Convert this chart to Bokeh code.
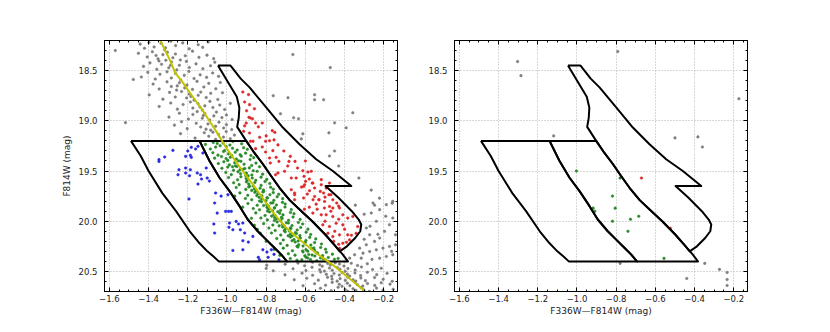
from bokeh.plotting import figure
from bokeh.layouts import row
from bokeh.models import Range1d, LinearAxis, SingleIntervalTicker, CustomJSTickFormatter
from bokeh.embed import file_html
from bokeh.resources import INLINE

# ---------------- data ----------------
x_label = "F336W\u2014F814W (mag)"
y_label = "F814W (mag)"
x_lim = (-1.625, -0.13)
y_lim = (20.7, 18.2)

# fiducial line
fid_x = [-1.345, -1.29, -1.265, -1.225, -1.175, -1.13, -1.09, -1.05, -1.00, -0.95, -0.90, -0.85,
         -0.80, -0.75, -0.70, -0.65, -0.60, -0.55, -0.50, -0.45, -0.40, -0.35, -0.30, -0.28]
fid_y = [18.18, 18.40, 18.52, 18.62, 18.76, 18.88, 19.00, 19.12, 19.28, 19.42, 19.55, 19.68,
         19.82, 19.95, 20.06, 20.15, 20.23, 20.31, 20.38, 20.45, 20.53, 20.61, 20.69, 20.73]

# selection boxes
box_blue_x = [-1.49, -1.14, -1.089, -1.038, -0.987, -0.936, -0.894, -0.843, -0.80, -0.757, -0.723, -0.694,
              -1.042, -1.07, -1.10, -1.14, -1.19, -1.26, -1.33, -1.40, -1.44, -1.49]
box_blue_y = [19.2, 19.2, 19.40, 19.567, 19.70, 19.85, 19.983, 20.10, 20.183, 20.267, 20.333, 20.40,
              20.40, 20.35, 20.30, 20.22, 20.10, 19.90, 19.72, 19.50, 19.35, 19.2]
box_green_x = [-1.14, -0.902, -0.86, -0.817, -0.775, -0.732, -0.68, -0.62, -0.565, -0.50, -0.45, -0.41, -0.383,
               -0.694, -0.723, -0.757, -0.80, -0.843, -0.894, -0.936, -0.987, -1.038, -1.089, -1.14]
box_green_y = [19.2, 19.2, 19.32, 19.43, 19.55, 19.667, 19.79, 19.90, 20.0, 20.13, 20.24, 20.33, 20.40,
               20.40, 20.333, 20.267, 20.183, 20.10, 19.983, 19.85, 19.70, 19.567, 19.40, 19.2]
box_red_x = [-1.046, -0.982, -0.93, -0.885, -0.80, -0.715, -0.63, -0.545, -0.46, -0.366, -0.497, -0.431,
             -0.363, -0.328, -0.315, -0.32, -0.346, -0.388, -0.425, -0.45, -0.50, -0.565, -0.62, -0.68,
             -0.732, -0.775, -0.817, -0.86, -0.902, -0.948, -0.94, -0.937, -0.95, -0.987, -1.046]
box_red_y = [18.45, 18.45, 18.58, 18.667, 18.867, 19.067, 19.233, 19.383, 19.50, 19.65, 19.65, 19.767,
             19.90, 19.983, 20.033, 20.10, 20.167, 20.25, 20.30, 20.24, 20.13, 20.0, 19.90, 19.79,
             19.667, 19.55, 19.43, 19.32, 19.2, 19.06, 18.97, 18.87, 18.76, 18.64, 18.45]

# left panel: gray stars (upper main sequence)
gray_upper_x = [-1.443, -1.398, -1.372, -1.336, -1.314, -1.287, -1.262, -1.226, -1.193, -1.147, -1.124, -1.096, -1.318, -1.421,
                -1.452, -1.407, -1.381, -1.352, -1.327, -1.304, -1.276, -1.263, -1.238, -1.213, -1.176, -1.143, -1.102, -1.068, -1.362, -1.312,
                -1.426, -1.393, -1.358, -1.334, -1.297, -1.283, -1.256, -1.243, -1.207, -1.192, -1.158, -1.123, -1.084, -1.062, -1.347, -1.288,
                -1.437, -1.404, -1.366, -1.342, -1.306, -1.284, -1.263, -1.236, -1.218, -1.194, -1.168, -1.137, -1.104, -1.073, -1.043, -1.478,
                -1.377, -1.346, -1.306, -1.284, -1.257, -1.243, -1.216, -1.204, -1.176, -1.153, -1.118, -1.093, -1.057, -1.034, -1.254,
                -1.397, -1.327, -1.293, -1.264, -1.232, -1.206, -1.193, -1.168, -1.147, -1.134, -1.106, -1.083, -1.047, -1.023, -1.184,
                -1.346, -1.287, -1.253, -1.224, -1.187, -1.174, -1.148, -1.126, -1.113, -1.087, -1.072, -1.037, -1.012, -0.983, -1.138,
                -1.296, -1.243, -1.197, -1.174, -1.152, -1.126, -1.113, -1.088, -1.067, -1.054, -1.026, -1.003, -0.974, -1.518, -1.121,
                -1.268, -1.203, -1.157, -1.134, -1.097, -1.083, -1.058, -1.041, -1.017, -1.003, -0.976, -1.232, -1.107,
                -1.237, -1.163, -1.116, -1.093, -1.058, -1.043, -1.018, -1.004, -0.983, -0.962, -1.072]
gray_upper_y = [18.236, 18.219, 18.264, 18.228, 18.273, 18.207, 18.251, 18.224, 18.283, 18.242, 18.268, 18.215, 18.292, 18.277,
                18.327, 18.364, 18.312, 18.383, 18.341, 18.318, 18.372, 18.334, 18.394, 18.352, 18.306, 18.368, 18.346, 18.381, 18.349, 18.396,
                18.458, 18.423, 18.486, 18.437, 18.472, 18.414, 18.493, 18.446, 18.408, 18.469, 18.433, 18.481, 18.452, 18.416, 18.404, 18.447,
                18.563, 18.517, 18.584, 18.536, 18.512, 18.573, 18.528, 18.593, 18.547, 18.508, 18.578, 18.542, 18.567, 18.523, 18.557, 18.588,
                18.634, 18.683, 18.612, 18.658, 18.694, 18.621, 18.672, 18.643, 18.687, 18.607, 18.663, 18.627, 18.681, 18.618, 18.652,
                18.742, 18.784, 18.717, 18.763, 18.708, 18.772, 18.733, 18.794, 18.746, 18.714, 18.768, 18.726, 18.787, 18.721, 18.757,
                18.857, 18.823, 18.884, 18.838, 18.812, 18.873, 18.829, 18.893, 18.851, 18.806, 18.868, 18.843, 18.887, 18.826, 18.862,
                18.963, 18.924, 18.982, 18.937, 18.908, 18.974, 18.928, 18.993, 18.951, 18.913, 18.968, 18.942, 18.987, 19.018, 18.948,
                19.043, 19.078, 19.024, 19.062, 19.031, 19.093, 19.054, 19.013, 19.071, 19.038, 19.087, 19.009, 19.083,
                19.128, 19.172, 19.119, 19.153, 19.184, 19.136, 19.162, 19.107, 19.178, 19.142, 19.113]

# left panel: gray field stars
gray_field_x = [-1.57, -0.664, -0.473, -0.764, -0.689, -0.553, -0.553, -0.507, -0.727, -0.66, -0.635, -0.451,
                -0.358, -0.392, -0.48, -0.613, -0.621, -0.451, -0.477, -0.43, -0.327, -0.222, -0.247, -0.157,
                -0.345, -0.264, -0.80]
gray_field_y = [18.30, 18.34, 18.47, 18.75, 18.77, 18.74, 18.79, 18.79, 18.93, 18.97, 18.98, 19.02,
                18.92, 19.07, 19.12, 19.13, 19.18, 19.30, 19.35, 19.45, 19.57, 19.77, 19.84, 19.82,
                19.84, 19.69, 20.47]

# left panel: gray stars (lower main sequence and right side)
gray_lower_x = [-0.703, -0.638, -0.604, -0.563, -0.527, -0.514, -0.486, -0.472, -0.448, -0.426, -0.403, -0.366, -0.334, -0.284, -0.797,
                -0.663, -0.597, -0.566, -0.527, -0.503, -0.477, -0.463, -0.437, -0.424, -0.397, -0.383, -0.346, -0.314, -0.257, -0.213, -0.764,
                -0.617, -0.563, -0.522, -0.493, -0.466, -0.454, -0.427, -0.413, -0.386, -0.374, -0.347, -0.318, -0.284, -0.236, -0.183, -0.704,
                -0.593, -0.534, -0.487, -0.464, -0.438, -0.423, -0.396, -0.384, -0.357, -0.343, -0.317, -0.294, -0.247, -0.203, -0.157, -0.657,
                -0.553, -0.497, -0.463, -0.427, -0.413, -0.386, -0.373, -0.346, -0.334, -0.307, -0.283, -0.246, -0.213, -0.168, -0.612,
                -0.523, -0.468, -0.433, -0.397, -0.384, -0.357, -0.343, -0.316, -0.303, -0.274, -0.237, -0.204, -0.152, -0.583,
                -0.289, -0.272, -0.247, -0.221, -0.196, -0.171, -0.154, -0.14, -0.238, -0.264, -0.221, -0.187,
                -0.255, -0.154, -0.289, -0.323, -0.306, -0.272, -0.238, -0.204, -0.171, -0.14, -0.349, -0.315,
                -0.374, -0.187, -0.154, -0.221, -0.30, -0.27, -0.30, -0.19, -0.23, -0.26, -0.16]
gray_lower_y = [20.428, 20.417, 20.443, 20.409, 20.434, 20.448, 20.421, 20.437, 20.414, 20.426, 20.446, 20.419, 20.441, 20.424, 20.438,
                20.474, 20.492, 20.458, 20.483, 20.497, 20.466, 20.488, 20.461, 20.478, 20.499, 20.471, 20.486, 20.456, 20.481, 20.468, 20.494,
                20.517, 20.538, 20.506, 20.529, 20.548, 20.521, 20.536, 20.512, 20.527, 20.546, 20.515, 20.541, 20.508, 20.532, 20.519, 20.534,
                20.568, 20.587, 20.559, 20.576, 20.597, 20.572, 20.589, 20.557, 20.583, 20.596, 20.566, 20.592, 20.561, 20.578, 20.598, 20.583,
                20.623, 20.637, 20.609, 20.628, 20.648, 20.617, 20.642, 20.606, 20.633, 20.646, 20.621, 20.639, 20.613, 20.627, 20.643,
                20.668, 20.692, 20.658, 20.681, 20.697, 20.673, 20.688, 20.662, 20.684, 20.699, 20.666, 20.687, 20.677, 20.695,
                20.068, 20.135, 20.201, 20.168, 20.101, 20.035, 19.968, 20.135, 20.001, 19.918, 19.885, 19.835,
                19.819, 19.802, 20.235, 20.268, 20.318, 20.301, 20.285, 20.268, 20.251, 20.235, 20.334, 20.368,
                20.368, 20.351, 20.334, 20.368, 19.93, 20.05, 20.18, 19.95, 20.13, 20.38, 20.30]

# left panel: green stars (middle box)
green_x = [-1.11, -1.07, -1.035, -1.02, -0.985, -0.97, -0.925, -1.05,
           -1.085, -1.058, -1.012, -1.004, -0.972, -0.948, -0.915, -0.896,
           -1.072, -1.046, -1.018, -0.993, -0.976, -0.958, -0.933, -0.905, -0.878,
           -1.063, -1.028, -0.996, -0.983, -0.952, -0.941, -0.927, -0.882, -0.864, -1.005,
           -1.044, -1.016, -0.988, -0.961, -0.957, -0.929, -0.913, -0.874, -0.852, -0.972,
           -1.026, -0.996, -0.967, -0.949, -0.934, -0.909, -0.886, -0.866, -0.834, -0.917,
           -1.006, -0.978, -0.944, -0.931, -0.904, -0.901, -0.873, -0.846, -0.818, -0.892,
           -0.992, -0.946, -0.929, -0.902, -0.897, -0.871, -0.853, -0.826, -0.797,
           -0.966, -0.938, -0.901, -0.889, -0.866, -0.858, -0.826, -0.806, -0.782, -0.884,
           -0.953, -0.904, -0.889, -0.861, -0.853, -0.831, -0.814, -0.777, -0.764, -0.874,
           -0.934, -0.894, -0.858, -0.843, -0.822, -0.813, -0.781, -0.764, -0.736, -0.848, -0.817,
           -0.906, -0.874, -0.836, -0.823, -0.801, -0.793, -0.761, -0.744, -0.716, -0.834, -0.796,
           -0.893, -0.846, -0.824, -0.797, -0.788, -0.766, -0.748, -0.717, -0.703, -0.813, -0.776,
           -0.866, -0.834, -0.796, -0.788, -0.767, -0.758, -0.727, -0.704, -0.672, -0.793, -0.757,
           -0.853, -0.806, -0.783, -0.761, -0.754, -0.731, -0.714, -0.676, -0.658, -0.772, -0.741,
           -0.827, -0.794, -0.757, -0.748, -0.726, -0.719, -0.686, -0.663, -0.627, -0.758, -0.722,
           -0.813, -0.766, -0.744, -0.717, -0.708, -0.687, -0.668, -0.636, -0.614, -0.734, -0.697,
           -0.786, -0.754, -0.716, -0.703, -0.682, -0.674, -0.642, -0.624, -0.587, -0.708, -0.676,
           -0.773, -0.726, -0.703, -0.677, -0.668, -0.646, -0.628, -0.596, -0.573, -0.688, -0.651,
           -0.746, -0.713, -0.677, -0.658, -0.637, -0.628, -0.597, -0.578, -0.547, -0.668, -0.626,
           -0.727, -0.693, -0.652, -0.634, -0.612, -0.604, -0.572, -0.553, -0.518, -0.643, -0.601,
           -0.713, -0.666, -0.638, -0.597, -0.588, -0.567, -0.553, -0.522, -0.497, -0.614, -0.557,
           -0.687, -0.653, -0.612, -0.583, -0.552, -0.538, -0.512, -0.493, -0.462, -0.603, -0.542, -0.566,
           -0.677, -0.643, -0.597, -0.574, -0.542, -0.523, -0.497, -0.483, -0.452, -0.433, -0.618, -0.588, -0.508,
           -0.96, -0.92, -0.875, -0.86, -0.83, -0.80, -0.76, -0.73, -0.845]
green_y = [19.235, 19.215, 19.248, 19.222, 19.241, 19.206, 19.229, 19.226,
           19.281, 19.262, 19.296, 19.256, 19.273, 19.291, 19.268, 19.284,
           19.318, 19.342, 19.305, 19.329, 19.347, 19.313, 19.338, 19.322, 19.345,
           19.372, 19.356, 19.394, 19.363, 19.381, 19.399, 19.352, 19.385, 19.367, 19.376,
           19.426, 19.408, 19.439, 19.417, 19.449, 19.403, 19.432, 19.445, 19.421, 19.457,
           19.472, 19.461, 19.493, 19.455, 19.488, 19.476, 19.469, 19.497, 19.458, 19.482,
           19.514, 19.536, 19.507, 19.527, 19.546, 19.521, 19.539, 19.503, 19.531, 19.548,
           19.565, 19.588, 19.557, 19.574, 19.597, 19.569, 19.592, 19.561, 19.583,
           19.617, 19.636, 19.608, 19.629, 19.648, 19.614, 19.643, 19.605, 19.625, 19.652,
           19.664, 19.683, 19.658, 19.676, 19.697, 19.671, 19.689, 19.662, 19.681, 19.693,
           19.718, 19.742, 19.712, 19.727, 19.748, 19.703, 19.736, 19.715, 19.731, 19.745, 19.709,
           19.773, 19.786, 19.762, 19.779, 19.797, 19.768, 19.792, 19.757, 19.775, 19.799, 19.766,
           19.824, 19.841, 19.806, 19.835, 19.848, 19.817, 19.838, 19.812, 19.828, 19.843, 19.819,
           19.874, 19.886, 19.862, 19.879, 19.897, 19.868, 19.893, 19.859, 19.884, 19.898, 19.866,
           19.917, 19.943, 19.908, 19.934, 19.946, 19.921, 19.937, 19.913, 19.926, 19.949, 19.905,
           19.968, 19.987, 19.963, 19.978, 19.997, 19.972, 19.991, 19.958, 19.982, 19.993, 19.961,
           20.024, 20.038, 20.007, 20.033, 20.049, 20.018, 20.043, 20.012, 20.027, 20.046, 20.016,
           20.068, 20.093, 20.057, 20.081, 20.097, 20.073, 20.088, 20.062, 20.079, 20.094, 20.066,
           20.117, 20.138, 20.106, 20.129, 20.148, 20.123, 20.143, 20.109, 20.132, 20.145, 20.114,
           20.172, 20.187, 20.158, 20.183, 20.197, 20.166, 20.192, 20.161, 20.176, 20.194, 20.168,
           20.223, 20.241, 20.207, 20.234, 20.247, 20.216, 20.238, 20.213, 20.227, 20.249, 20.211,
           20.268, 20.294, 20.257, 20.283, 20.298, 20.274, 20.287, 20.262, 20.279, 20.296, 20.266,
           20.324, 20.338, 20.306, 20.331, 20.347, 20.318, 20.343, 20.309, 20.328, 20.344, 20.314, 20.336,
           20.372, 20.388, 20.358, 20.381, 20.393, 20.367, 20.386, 20.362, 20.379, 20.371, 20.384, 20.366, 20.377,
           19.75, 19.86, 19.97, 20.04, 20.12, 20.20, 20.28, 20.34, 20.08]

# left panel: red stars (upper-right box)
red_x = [-0.919, -0.890, -0.910, -0.885, -0.888, -0.881, -0.902, -0.854, -0.820, -0.915, -0.885, -0.88,
         -0.867, -0.833, -0.769, -0.756, -0.803, -0.783, -0.854, -0.803, -0.766, -0.749, -0.783, -0.779,
         -0.735, -0.706, -0.677, -0.684, -0.653, -0.752, -0.740, -0.672, -0.647, -0.613, -0.587, -0.570,
         -0.607, -0.609, -0.599, -0.565, -0.519, -0.553, -0.579, -0.524, -0.507, -0.480, -0.531, -0.561,
         -0.477, -0.47, -0.44, -0.43, -0.503, -0.46, -0.655, -0.655, -0.609,
         -0.672, -0.655, -0.604, -0.562, -0.519, -0.494, -0.553, -0.531, -0.502, -0.460, -0.477, -0.426,
         -0.562, -0.519, -0.494, -0.460, -0.409, -0.384, -0.358, -0.443, -0.409, -0.511, -0.477, -0.485,
         -0.460, -0.426, -0.384, -0.365, -0.455, -0.43, -0.409, -0.375, -0.425, -0.39, -0.333, -0.341,
         -0.84, -0.80, -0.74, -0.71, -0.69, -0.64, -0.60, -0.58, -0.62, -0.59, -0.545, -0.50, -0.47,
         -0.43, -0.40, -0.45, -0.50, -0.54, -0.58, -0.605, -0.90, -0.86, -0.87, -0.91, -0.76, -0.82]
red_y = [18.713, 18.739, 18.812, 18.839, 18.965, 18.972, 19.022, 19.022, 19.022, 19.105, 19.121, 19.204,
         19.204, 19.164, 19.098, 19.115, 19.204, 19.198, 19.277, 19.311, 19.297, 19.364, 19.370, 19.420,
         19.404, 19.503, 19.354, 19.404, 19.404, 19.537, 19.520, 19.570, 19.570, 19.497, 19.510, 19.503,
         19.553, 19.653, 19.603, 19.620, 19.586, 19.669, 19.696, 19.703, 19.719, 19.736, 19.786, 19.786,
         19.620, 19.736, 19.819, 19.85, 19.869, 19.869, 19.719, 19.786, 19.769,
         19.686, 19.736, 19.636, 19.620, 19.636, 19.670, 19.753, 19.786, 19.803, 19.786, 19.853, 19.869,
         19.919, 19.936, 19.936, 19.953, 19.936, 19.969, 19.953, 20.020, 20.036, 20.036, 20.053, 20.120,
         20.153, 20.136, 20.136, 20.14, 20.20, 20.23, 20.219, 20.186, 20.27, 20.21, 20.053, 20.120,
         19.06, 19.15, 19.24, 19.30, 19.45, 19.47, 19.40, 19.58, 19.66, 19.73, 19.83, 19.76, 19.90,
         19.98, 20.08, 20.10, 20.00, 19.88, 19.86, 19.88, 18.90, 18.88, 18.98, 19.05, 19.19, 19.26]

# left panel: blue stars (left box)
blue_x = [-1.276, -1.318, -1.347, -1.347, -1.182, -1.148, -1.211, -1.187, -1.182, -1.123, -1.211, -1.245,
          -1.250, -1.187, -1.211, -1.191, -1.152, -1.135, -1.130, -1.101, -1.106, -1.148, -1.194, -1.058,
          -0.995, -1.063, -1.050, -1.007, -0.992, -0.978, -1.067, -1.063, -0.987, -0.953, -0.941, -0.919,
          -0.932, -0.910, -0.970, -0.919, -0.891, -0.919, -0.970, -0.840, -0.817, -0.796, -0.774, -0.834,
          -0.735, -0.868, -1.16, -1.20, -1.09, -1.03, -0.99, -0.79, -0.76]
blue_y = [19.294, 19.360, 19.387, 19.404, 19.264, 19.254, 19.354, 19.344, 19.364, 19.321, 19.470, 19.487,
          19.537, 19.487, 19.520, 19.547, 19.520, 19.537, 19.580, 19.570, 19.470, 19.630, 19.779, 19.719,
          19.736, 19.819, 19.919, 19.902, 19.902, 19.902, 20.028, 20.118, 20.018, 20.002, 20.028, 20.018,
          20.085, 20.118, 20.085, 20.194, 20.208, 20.284, 20.291, 20.360, 20.284, 20.307, 20.284, 20.384,
          20.384, 20.151, 19.28, 19.30, 19.60, 19.75, 20.06, 20.36, 20.33]

# right panel
r_gray_x = [-1.303, -1.286, -0.792, -0.174, -1.119, -0.50, -0.383, -0.36, -0.78, -0.348, -0.273, -0.44,
            -0.234, -0.234, -0.234]
r_gray_y = [18.41, 18.55, 18.31, 18.78, 19.15, 19.17, 19.16, 19.26, 20.42, 20.42, 20.48, 20.57,
            20.51, 20.58, 20.64]
r_green_x = [-1.003, -0.78, -0.819, -0.918, -0.909, -0.805, -0.819, -0.727, -0.685, -0.74, -0.556]
r_green_y = [19.50, 19.57, 19.75, 19.87, 19.90, 19.87, 20.00, 19.98, 19.95, 20.10, 20.37]
r_red_x = [-0.671, -0.524]
r_red_y = [19.57, 20.07]

# ---------------- styling ----------------
FONT = "DejaVu Sans"
C_GRAY, C_GREEN, C_RED, C_BLUE = "#7f7f7f", "#2a8a2a", "#dd2a2a", "#2a2ae0"
C_FID = "#c2c200"
PT = 2.6

fmt = CustomJSTickFormatter(code="""
    const s = Math.abs(tick).toFixed(1);
    return (tick < -1e-9 ? "\u2212" : "") + s;
""")
blank = CustomJSTickFormatter(code="return '';")


def style_axis(ax, labels=True):
    ax.axis_line_color = "black"
    ax.axis_line_width = 1
    ax.major_tick_in = 4
    ax.major_tick_out = 0
    ax.minor_tick_in = 2
    ax.minor_tick_out = 0
    ax.major_tick_line_color = "black"
    ax.minor_tick_line_color = "black"
    ax.major_label_text_font = FONT
    ax.major_label_text_font_size = "8.5px" if labels else "0px"
    ax.major_label_text_color = "#222222"
    ax.axis_label_text_font = FONT
    ax.axis_label_text_font_size = "9px"
    ax.axis_label_text_font_style = "normal"
    ax.axis_label_text_color = "#222222"
    ax.formatter = fmt if labels else blank
    if not labels:
        ax.major_label_standoff = 0


def make_panel(left_border, right_border, with_ylabel):
    p = figure(frame_width=293, frame_height=251,
               x_range=Range1d(*x_lim), y_range=Range1d(*y_lim),
               output_backend="svg", toolbar_location=None,
               min_border_left=left_border, min_border_right=right_border,
               min_border_top=40, min_border_bottom=30,
               background_fill_color="white", border_fill_color="white")
    p.outline_line_color = "black"
    p.outline_line_width = 1
    bottom = p.below[0]
    left = p.left[0]
    top = LinearAxis()
    right = LinearAxis()
    p.add_layout(top, "above")
    p.add_layout(right, "right")
    for ax in (bottom, top):
        ax.ticker = SingleIntervalTicker(interval=0.2, num_minor_ticks=4)
    for ax in (left, right):
        ax.ticker = SingleIntervalTicker(interval=0.5, num_minor_ticks=5)
    style_axis(bottom)
    style_axis(left)
    style_axis(top, labels=False)
    style_axis(right, labels=False)
    bottom.axis_label = x_label
    bottom.major_label_standoff = 3
    bottom.axis_label_standoff = 1
    left.major_label_standoff = 7
    left.axis_label_standoff = 4
    if with_ylabel:
        left.axis_label = y_label
    p.grid.grid_line_color = "#b0b0b0"
    p.grid.grid_line_dash = "1 2"
    p.grid.grid_line_width = 1
    return p


def draw_boxes(p):
    for bx, by in ((box_blue_x, box_blue_y), (box_green_x, box_green_y), (box_red_x, box_red_y)):
        p.line(bx, by, line_color="black", line_width=2, line_join="round")


p1 = make_panel(104, 21, True)
for xs, ys in ((gray_upper_x, gray_upper_y), (gray_field_x, gray_field_y), (gray_lower_x, gray_lower_y)):
    p1.scatter(xs, ys, size=PT, fill_color=C_GRAY, line_color=C_GRAY, line_width=0.5)
p1.scatter(green_x, green_y, size=PT, fill_color=C_GREEN, line_color=C_GREEN, line_width=0.5)
p1.scatter(red_x, red_y, size=PT, fill_color=C_RED, line_color=C_RED, line_width=0.5)
p1.scatter(blue_x, blue_y, size=PT, fill_color=C_BLUE, line_color=C_BLUE, line_width=0.5)
draw_boxes(p1)
p1.line(fid_x, fid_y, line_color=C_FID, line_width=2)

p2 = make_panel(36, 10, False)
p2.scatter(r_gray_x, r_gray_y, size=PT, fill_color=C_GRAY, line_color=C_GRAY, line_width=0.5)
p2.scatter(r_green_x, r_green_y, size=PT, fill_color=C_GREEN, line_color=C_GREEN, line_width=0.5)
p2.scatter(r_red_x, r_red_y, size=PT, fill_color=C_RED, line_color=C_RED, line_width=0.5)
draw_boxes(p2)

layout = row(p1, p2)
open("out.html", "w").write(file_html(layout, INLINE))
